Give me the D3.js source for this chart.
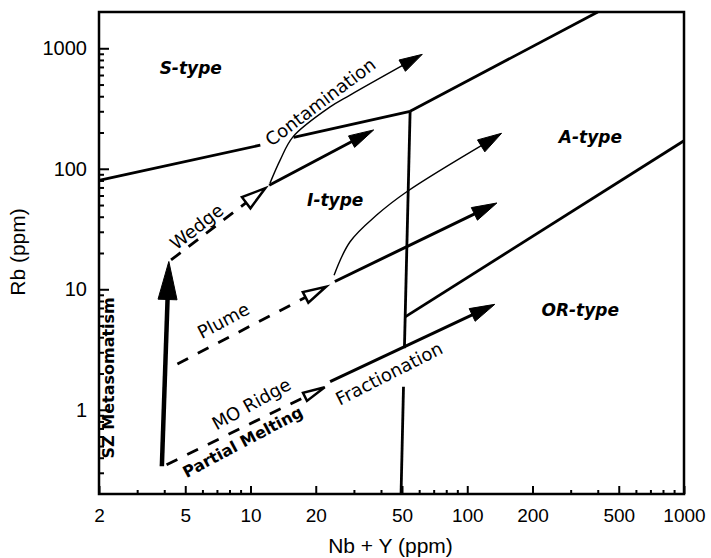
<!DOCTYPE html>
<html>
<head>
<meta charset="utf-8">
<script src="https://cdn.jsdelivr.net/npm/d3@7"></script>
<style>
  body { margin: 0; background: #fff; }
  svg { display: block; }
</style>
</head>
<body>
<div id="chart"></div>
<script>
// tick values
const xMajor = [2, 5, 10, 20, 50, 100, 200, 500, 1000];
const xMinor = [3, 4, 6, 7, 8, 9, 30, 40, 60, 70, 80, 90, 300, 400, 600, 700, 800, 900];
const yMajor = [1, 10, 100, 1000];
const yMinor = [0.3, 0.4, 0.5, 0.6, 0.7, 0.8, 0.9, 2, 3, 4, 5, 6, 7, 8, 9,
                20, 30, 40, 50, 60, 70, 80, 90, 200, 300, 400, 500, 600, 700, 800, 900];

// field boundaries, [Nb+Y, Rb]
const sIBoundaryLeft = [[2, 80], [11.1, 157]];
const sIBoundaryRight = [[15.8, 182], [54.5, 300]];
const aUpperBoundary = [[54.5, 300], [400, 2000]];
const iaBoundaryTop = [[54.5, 300], [51.3, 3.25]];
const iaBoundaryBottom = [[50.8, 1.55], [49.5, 0.2]];
const orBoundary = [[51.7, 5.9], [1000, 171]];

// source / process trends
const szMetasomatism = [[3.9, 0.34], [4.2, 17]];
const wedgeSource = [[4.3, 17.5], [11.7, 69]];
const wedgeTrend = [[12.2, 73], [37, 210]];
const plumeSource = [[4.6, 2.4], [22.3, 10.5]];
const plumeTrend = [[24.5, 11.6], [137, 52]];
const ridgeSource = [[4.1, 0.35], [22, 1.54]];
const ridgeTrend = [[23.3, 1.71], [134, 7.5]];
const contamWedge = [[12.3, 76], [13.7, 118], [15.7, 184], [23.3, 326], [28.8, 409], [62, 890]];
const contamPlume = [[24.3, 13.1], [28.8, 24.8], [38.2, 41.3], [52.6, 64.5], [144, 197]];

const fieldLabels = [
    { text: "S-type", nbY: 5.3, rb: 690 },
    { text: "I-type", nbY: 24.6, rb: 55 },
    { text: "A-type", nbY: 370, rb: 184 },
    { text: "OR-type", nbY: 332, rb: 6.7 }
];
const trendLabels = [
    { text: "Wedge", nbY: 5.65, rb: 33, angle: -38 },
    { text: "Plume", nbY: 7.5, rb: 5.5, angle: -28 },
    { text: "MO Ridge", nbY: 10.1, rb: 1.12, angle: -29 },
    { text: "Partial Melting", nbY: 9.2, rb: 0.54, angle: -28, bold: true },
    { text: "Fractionation", nbY: 43.6, rb: 2, angle: -27 },
    { text: "Contamination", nbY: 21, rb: 358, angle: -37 },
    { text: "SZ Metasomatism", nbY: 2.2, rb: 1.84, angle: -90, bold: true }
];

const width = 711, height = 558;
const svg = d3.select("#chart").append("svg")
    .attr("width", width)
    .attr("height", height);

const x = d3.scaleLog().domain([2, 1000]).range([99, 684]);
const y = d3.scaleLog().domain([0.2, 2000]).range([494, 12]);

const tickFont = "'Liberation Sans', Arial, sans-serif";
const noteFont = "'DejaVu Sans', sans-serif";

// axes, ticks pointing inward
function styleAxis(g) {
    g.select(".domain").remove();
    g.selectAll("line").attr("stroke", "#000").attr("stroke-width", 2);
    g.attr("font-family", tickFont).attr("font-size", 19);
    g.selectAll("text").attr("fill", "#000");
}

svg.append("g")
    .attr("transform", `translate(0,${y.range()[0]})`)
    .call(d3.axisBottom(x).tickValues(xMinor).tickSizeInner(-4).tickSizeOuter(0).tickFormat(""))
    .call(styleAxis);
svg.append("g")
    .attr("transform", `translate(0,${y.range()[0]})`)
    .call(d3.axisBottom(x).tickValues(xMajor).tickSizeInner(-8).tickSizeOuter(0)
        .tickPadding(15).tickFormat(d3.format("d")))
    .call(styleAxis);
svg.append("g")
    .attr("transform", `translate(${x.range()[0]},0)`)
    .call(d3.axisLeft(y).tickValues(yMinor).tickSizeInner(-5).tickSizeOuter(0).tickFormat(""))
    .call(styleAxis);
svg.append("g")
    .attr("transform", `translate(${x.range()[0]},0)`)
    .call(d3.axisLeft(y).tickValues(yMajor).tickSizeInner(-10).tickSizeOuter(0)
        .tickPadding(12).tickFormat(d3.format("d")))
    .call(styleAxis)
    .attr("font-size", 20);

// frame
svg.append("rect")
    .attr("x", x.range()[0])
    .attr("y", y.range()[1])
    .attr("width", x.range()[1] - x.range()[0])
    .attr("height", y.range()[0] - y.range()[1])
    .attr("fill", "none")
    .attr("stroke", "#000")
    .attr("stroke-width", 2.5);

// axis titles
svg.append("text")
    .attr("x", (x.range()[0] + x.range()[1]) / 2 - 1)
    .attr("y", 553)
    .attr("text-anchor", "middle")
    .attr("font-family", tickFont)
    .attr("font-size", 21)
    .text("Nb + Y (ppm)");
svg.append("text")
    .attr("transform", "translate(25,252) rotate(-90)")
    .attr("text-anchor", "middle")
    .attr("font-family", tickFont)
    .attr("font-size", 21)
    .text("Rb (ppm)");

const line = d3.line().x(d => x(d[0])).y(d => y(d[1]));
const plot = svg.append("g");

[sIBoundaryLeft, sIBoundaryRight, aUpperBoundary, iaBoundaryTop, iaBoundaryBottom, orBoundary]
    .forEach(b => {
        plot.append("path")
            .attr("d", line(b))
            .attr("fill", "none")
            .attr("stroke", "#000")
            .attr("stroke-width", 2.8);
    });

const pxLine = d3.line();
const pxCurve = d3.line().curve(d3.curveCatmullRom.alpha(0.5));

// shaft + arrowhead, head sized in pixels
function arrow(pts, o) {
    const p = pts.map(d => [x(d[0]), y(d[1])]);
    const a = p[p.length - 2], b = p[p.length - 1];
    const dx = b[0] - a[0], dy = b[1] - a[1], d = Math.hypot(dx, dy);
    const ux = dx / d, uy = dy / d;
    const bx = b[0] - ux * o.len, by = b[1] - uy * o.len;
    const tri = [b, [bx - uy * o.half, by + ux * o.half], [bx + uy * o.half, by - ux * o.half]];
    const end = o.open ? [bx, by] : [bx + ux * o.len * 0.4, by + uy * o.len * 0.4];
    const shaft = p.slice(0, -1).concat([end]);

    plot.append("path")
        .attr("d", (o.curve ? pxCurve : pxLine)(shaft))
        .attr("fill", "none")
        .attr("stroke", "#000")
        .attr("stroke-width", o.w)
        .attr("stroke-dasharray", o.dash || null);
    plot.append("path")
        .attr("d", "M" + tri.join("L") + "Z")
        .attr("fill", o.open ? "#fff" : "#000")
        .attr("stroke", "#000")
        .attr("stroke-width", o.open ? 2.5 : 1)
        .attr("stroke-linejoin", "miter");
}

arrow(szMetasomatism, { len: 38, half: 9.5, w: 4.5 });
arrow(wedgeSource, { len: 24, half: 7, w: 2.8, dash: "12,10", open: true });
arrow(plumeSource, { len: 23, half: 6, w: 2.8, dash: "12,11", open: true });
arrow(ridgeSource, { len: 22, half: 4.5, w: 2.8, dash: "12,11", open: true });
arrow(wedgeTrend, { len: 25, half: 6.5, w: 3 });
arrow(plumeTrend, { len: 25, half: 7, w: 3 });
arrow(ridgeTrend, { len: 25, half: 7, w: 3 });
arrow(contamWedge, { len: 23, half: 6.5, w: 1.4, curve: true });
arrow(contamPlume, { len: 24, half: 7, w: 1.4, curve: true });

// labels
plot.selectAll("text.field")
    .data(fieldLabels)
    .join("text")
    .attr("class", "field")
    .attr("x", d => x(d.nbY))
    .attr("y", d => y(d.rb))
    .attr("dy", "0.35em")
    .attr("text-anchor", "middle")
    .attr("font-family", noteFont)
    .attr("font-size", 17)
    .attr("font-weight", "bold")
    .attr("font-style", "italic")
    .text(d => d.text);

plot.selectAll("text.trend")
    .data(trendLabels)
    .join("text")
    .attr("class", "trend")
    .attr("transform", d => `translate(${x(d.nbY)},${y(d.rb)}) rotate(${d.angle})`)
    .attr("dy", "0.35em")
    .attr("text-anchor", "middle")
    .attr("font-family", noteFont)
    .attr("font-size", d => d.bold ? 16 : 18)
    .attr("font-weight", d => d.bold ? "bold" : "normal")
    .text(d => d.text);
</script>
</body>
</html>
